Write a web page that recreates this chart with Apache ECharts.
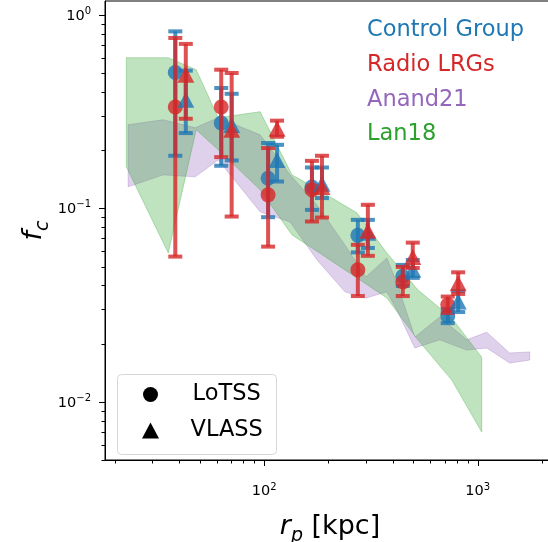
<!DOCTYPE html>
<html>
<head>
<meta charset="utf-8">
<script src="https://cdn.jsdelivr.net/npm/echarts@6/dist/echarts.min.js"></script>
<style>
  html, body { margin: 0; padding: 0; background: #fff; overflow: hidden; }
  #chart { width: 548px; height: 542px; }
</style>
</head>
<body>
<div id="chart"></div>
<script>
// axis limits and ticks
const X_MIN = 18, X_MAX = 2300;
const Y_MIN = 0.005, Y_MAX = 1.18;
const xMajor = [100, 1000];
const xMinor = [20, 30, 40, 50, 60, 70, 80, 90, 200, 300, 400, 500, 600, 700, 800, 900, 2000];
const yMajor = [0.01, 0.1, 1];
const yMinor = [0.005, 0.006, 0.007, 0.008, 0.009, 0.02, 0.03, 0.04, 0.05, 0.06, 0.07, 0.08, 0.09,
                0.2, 0.3, 0.4, 0.5, 0.6, 0.7, 0.8, 0.9];

// rp bins (kpc)
const rpLoTSS = [38.4, 63.0, 104.4, 167.5, 274.7, 446, 724];
const rpVLASS = [43.0, 70.5, 115, 186.6, 306, 496.6, 810];

// Control group
const ctrlLoTSS = [0.504, 0.276, 0.143, 0.129, 0.0725, 0.0445, 0.0278];
const ctrlLoTSSLo = [0.187, 0.166, 0.090, 0.0982, 0.0592, 0.0397, 0.0255];
const ctrlLoTSSHi = [0.822, 0.419, 0.2176, 0.1626, 0.0872, 0.051, 0.0302];
const ctrlVLASS = [0.364, 0.270, 0.178, 0.134, 0.0747, 0.0481, 0.033];
const ctrlVLASSLo = [0.245, 0.1768, 0.1376, 0.113, 0.0624, 0.0437, 0.0291];
const ctrlVLASSHi = [0.515, 0.391, 0.213, 0.1626, 0.0872, 0.0541, 0.0374];

// Radio LRGs
const radioLoTSS = [0.334, 0.334, 0.1174, 0.1247, 0.0481, 0.0416, 0.0317];
const radioLoTSSLo = [0.0563, 0.184, 0.0634, 0.0855, 0.0352, 0.0352, 0.0288];
const radioLoTSSHi = [0.760, 0.521, 0.205, 0.176, 0.0648, 0.0498, 0.035];
const radioVLASS = [0.491, 0.255, 0.258, 0.129, 0.0765, 0.0561, 0.041];
const radioVLASSLo = [0.2905, 0.0907, 0.2345, 0.0896, 0.0568, 0.0492, 0.0361];
const radioVLASSHi = [0.708, 0.501, 0.284, 0.187, 0.1043, 0.0665, 0.0467];

// Lan18 band
const lanRp = [22.65, 35.6, 48.1, 61.0, 95.8, 135.1, 178.8, 272, 375.6, 524.3, 755.8, 1044];
const lanHi = [0.601, 0.601, 0.521, 0.294, 0.316, 0.149, 0.1247, 0.0948, 0.0588, 0.0379, 0.0271, 0.0170];
const lanLo = [0.164, 0.0588, 0.255, 0.2008, 0.1247, 0.0729, 0.0595, 0.0437, 0.0344, 0.0209, 0.01295, 0.00697];

// Anand21 band
const anandRp = [23.1, 33.7, 47.6, 61.0, 95.8, 132.3, 176.9, 239, 299.7, 375.6, 418.3, 507.7, 664.3, 888.5, 1102, 1411, 1750];
const anandHi = [0.2705, 0.287, 0.261, 0.294, 0.240, 0.149, 0.1042, 0.0647, 0.0442, 0.0554, 0.0411, 0.0216, 0.0274, 0.0209, 0.0229, 0.01787, 0.0181];
const anandLo = [0.1292, 0.149, 0.1455, 0.178, 0.0959, 0.0851, 0.0541, 0.0370, 0.0344, 0.0370, 0.0298, 0.01897, 0.0209, 0.0185, 0.01897, 0.01586, 0.01643];

const BLUE = 'rgba(31,119,180,0.8)';
const RED = 'rgba(214,39,40,0.8)';
const FONT = 'DejaVu Sans';

function bandSeries(rp, lo, hi, rgb) {
    return {
        type: 'custom',
        silent: true,
        clip: true,
        z: 2,
        data: [[rp[0], hi[0]]],
        renderItem: function (params, api) {
            const pts = [];
            for (let i = 0; i < rp.length; i++) pts.push(api.coord([rp[i], hi[i]]));
            for (let i = rp.length - 1; i >= 0; i--) pts.push(api.coord([rp[i], lo[i]]));
            return {
                type: 'polygon',
                shape: { points: pts },
                style: { fill: 'rgba(' + rgb + ',0.3)', stroke: 'rgba(' + rgb + ',0.3)', lineWidth: 1 }
            };
        }
    };
}

function errorSeries(rp, val, lo, hi, color, marker) {
    return {
        type: 'custom',
        silent: true,
        clip: false,
        z: 3,
        data: rp.map((r, i) => [r, val[i], lo[i], hi[i]]),
        encode: { x: 0, y: 1 },
        renderItem: function (params, api) {
            const p = api.coord([api.value(0), api.value(1)]);
            const pLo = api.coord([api.value(0), api.value(2)]);
            const pHi = api.coord([api.value(0), api.value(3)]);
            const cap = 7;
            const lineStyle = { stroke: color, lineWidth: 4 };
            const children = [
                { type: 'line', shape: { x1: p[0], y1: pLo[1], x2: p[0], y2: pHi[1] }, style: lineStyle },
                { type: 'line', shape: { x1: p[0] - cap, y1: pLo[1], x2: p[0] + cap, y2: pLo[1] }, style: lineStyle },
                { type: 'line', shape: { x1: p[0] - cap, y1: pHi[1], x2: p[0] + cap, y2: pHi[1] }, style: lineStyle }
            ];
            if (marker === 'circle') {
                children.push({ type: 'circle', shape: { cx: p[0], cy: p[1], r: 7.5 }, style: { fill: color } });
            } else {
                children.push({
                    type: 'polygon',
                    shape: { points: [[p[0], p[1] - 8], [p[0] - 8.5, p[1] + 8], [p[0] + 8.5, p[1] + 8]] },
                    style: { fill: color }
                });
            }
            return { type: 'group', children: children };
        }
    };
}

function tickSeries(values, axis, len) {
    return {
        type: 'custom',
        silent: true,
        clip: false,
        z: 5,
        data: values.map(v => axis === 'x' ? [v, Y_MIN] : [X_MIN, v]),
        renderItem: function (params, api) {
            const p = api.coord([api.value(0), api.value(1)]);
            if (axis === 'x') {
                const x = Math.round(p[0]) + 0.5;
                return { type: 'line', shape: { x1: x, y1: p[1], x2: x, y2: p[1] + len }, style: { stroke: '#000', lineWidth: 1 } };
            }
            const y = Math.round(p[1]) + 0.5;
            return { type: 'line', shape: { x1: p[0] - len, y1: y, x2: p[0], y2: y }, style: { stroke: '#000', lineWidth: 1 } };
        }
    };
}

function powLabel(value) {
    const e = Math.log10(value);
    const r = Math.round(e);
    if (Math.abs(e - r) > 1e-6) return '';
    return '{n|10}{s|' + (r < 0 ? '\u2212' + (-r) : r) + '}';
}

const labelRich = {
    n: { fontFamily: FONT, fontSize: 14.5, color: '#000', verticalAlign: 'bottom' },
    s: { fontFamily: FONT, fontSize: 10, color: '#000', verticalAlign: 'bottom', padding: [0, 0, 7, 0] }
};

const chart = echarts.init(document.getElementById('chart'), null, { renderer: 'canvas' });

const option = {
    animation: false,
    backgroundColor: '#fff',
    // right spine sits just outside the picture, as in the original figure crop
    grid: {
        left: 105, right: -7, top: 1, bottom: 82,
        containLabel: false, outerBoundsMode: 'none',
        show: true, borderColor: '#000', borderWidth: 1, backgroundColor: 'transparent'
    },
    xAxis: {
        type: 'log',
        logBase: 10,
        min: X_MIN,
        max: X_MAX,
        axisLine: { show: true, onZero: false, lineStyle: { color: '#000', width: 1 } },
        axisTick: { show: false },
        splitLine: { show: false },
        axisLabel: { formatter: powLabel, margin: 22, rich: labelRich, showMinLabel: false, showMaxLabel: false },
        name: '{i|r}{s|p}{n| [kpc]}',
        nameLocation: 'middle',
        nameGap: 53,
        nameTextStyle: {
            rich: {
                i: { fontFamily: FONT, fontStyle: 'italic', fontSize: 27, color: '#000', verticalAlign: 'bottom', padding: [0, 0, 6, 0] },
                s: { fontFamily: FONT, fontStyle: 'italic', fontSize: 19, color: '#000', verticalAlign: 'bottom' },
                n: { fontFamily: FONT, fontSize: 27, color: '#000', verticalAlign: 'bottom', padding: [0, 0, 6, 0] }
            }
        }
    },
    yAxis: {
        type: 'log',
        logBase: 10,
        min: Y_MIN,
        max: Y_MAX,
        axisLine: { show: true, onZero: false, lineStyle: { color: '#000', width: 1 } },
        axisTick: { show: false },
        splitLine: { show: false },
        axisLabel: { formatter: powLabel, margin: 14, rich: labelRich, showMinLabel: false, showMaxLabel: false },
        name: '{i|f}{s|c}',
        nameLocation: 'middle',
        nameRotate: 90,
        nameGap: 52,
        nameMoveOverlap: false,
        nameTextStyle: {
            rich: {
                i: { fontFamily: FONT, fontStyle: 'italic', fontSize: 27, color: '#000', verticalAlign: 'bottom', padding: [0, 0, 6, 0] },
                s: { fontFamily: FONT, fontStyle: 'italic', fontSize: 19, color: '#000', verticalAlign: 'bottom' }
            }
        }
    },
    graphic: [
        { type: 'text', left: 367, top: 19, style: { text: 'Control Group', fill: '#1f77b4', font: '22.5px "DejaVu Sans"' } },
        { type: 'text', left: 367, top: 54, style: { text: 'Radio LRGs', fill: '#d62728', font: '22.5px "DejaVu Sans"' } },
        { type: 'text', left: 367, top: 89, style: { text: 'Anand21', fill: '#9467bd', font: '22.5px "DejaVu Sans"' } },
        { type: 'text', left: 367, top: 123, style: { text: 'Lan18', fill: '#2ca02c', font: '22.5px "DejaVu Sans"' } },
        {
            type: 'group', left: 117, top: 374, children: [
                { type: 'rect', shape: { x: 0, y: 0, width: 159, height: 80, r: 4 }, style: { fill: 'rgba(255,255,255,0.8)', stroke: '#d6d6d6', lineWidth: 1 } },
                { type: 'circle', shape: { cx: 33, cy: 20, r: 7.5 }, style: { fill: '#000' } },
                { type: 'polygon', shape: { points: [[33, 48], [24.5, 64], [41.5, 64]] }, style: { fill: '#000' } },
                { type: 'text', x: 75, y: 20, style: { text: 'LoTSS', fill: '#000', font: '22.5px "DejaVu Sans"', textVerticalAlign: 'middle' } },
                { type: 'text', x: 73, y: 56, style: { text: 'VLASS', fill: '#000', font: '22.5px "DejaVu Sans"', textVerticalAlign: 'middle' } }
            ]
        }
    ],
    series: [
        bandSeries(anandRp, anandLo, anandHi, '148,103,189'),
        bandSeries(lanRp, lanLo, lanHi, '44,160,44'),
        errorSeries(rpLoTSS, ctrlLoTSS, ctrlLoTSSLo, ctrlLoTSSHi, BLUE, 'circle'),
        errorSeries(rpLoTSS, radioLoTSS, radioLoTSSLo, radioLoTSSHi, RED, 'circle'),
        errorSeries(rpVLASS, ctrlVLASS, ctrlVLASSLo, ctrlVLASSHi, BLUE, 'triangle'),
        errorSeries(rpVLASS, radioVLASS, radioVLASSLo, radioVLASSHi, RED, 'triangle'),
        tickSeries(xMajor, 'x', 6),
        tickSeries(xMinor, 'x', 3.5),
        tickSeries(yMajor, 'y', 6),
        tickSeries(yMinor, 'y', 3.5)
    ]
};

chart.setOption(option);
</script>
</body>
</html>
